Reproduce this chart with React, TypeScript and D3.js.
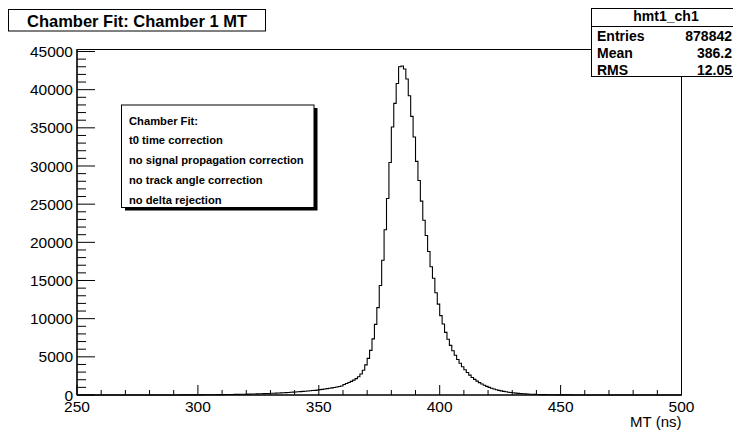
import React from "react";
import * as d3 from "d3";

const binLow = 250;
const binHigh = 500;
const counts: number[] = [
  // 250-259
  0, 0, 0, 0, 0, 0, 0, 0, 0, 0,
  // 260-269
  0, 0, 1, 0, 0, 1, 0, 1, 1, 0,
  // 270-279
  1, 1, 2, 1, 2, 2, 3, 2, 3, 3,
  // 280-289
  4, 3, 5, 4, 5, 6, 6, 7, 7, 8,
  // 290-299
  9, 9, 10, 11, 12, 12, 14, 15, 16, 17,
  // 300-309
  20, 22, 24, 27, 30, 33, 36, 40, 44, 48,
  // 310-319
  52, 56, 61, 66, 71, 77, 83, 90, 97, 105,
  // 320-329
  113, 121, 130, 139, 149, 159, 170, 181, 193, 206,
  // 330-339
  220, 234, 249, 264, 280, 297, 315, 334, 354, 375,
  // 340-349
  397, 420, 444, 469, 495, 522, 550, 580, 611, 643,
  // 350-359
  700, 740, 785, 830, 880, 930, 985, 1045, 1110, 1180,
  // 360-369
  1380, 1500, 1630, 1780, 1950, 2150, 2400, 2750, 3250, 3950,
  // 370-379
  4800, 5850, 7350, 9250, 11450, 14350, 17650, 21650, 25750, 30450,
  // 380-389
  35100, 38200, 40800, 43000, 43100, 42700, 41400, 39200, 36500, 33800,
  // 390-399
  30600, 28100, 25400, 22900, 20900, 18800, 16800, 15300, 13400, 11900,
  // 400-409
  10400, 9300, 8200, 7300, 6500, 5800, 5200, 4650, 4150, 3700,
  // 410-419
  3300, 2950, 2600, 2300, 2050, 1820, 1620, 1440, 1280, 1130,
  // 420-429
  1000, 880, 780, 690, 610, 540, 475, 420, 370, 325,
  // 430-439
  285, 250, 218, 190, 165, 143, 124, 107, 92, 80,
  // 440-449
  69, 60, 52, 45, 39, 34, 29, 25, 22, 19,
  // 450-459
  16, 14, 12, 11, 10, 9, 8, 7, 6, 6,
  // 460-469
  5, 5, 4, 4, 3, 3, 3, 2, 2, 2,
  // 470-479
  2, 1, 2, 1, 1, 1, 1, 0, 1, 0,
  // 480-489
  0, 0, 1, 0, 0, 0, 0, 0, 0, 0,
  // 490-499
  0, 0, 0, 0, 0, 0, 0, 0, 0, 0,
];

const xTickLabels = ["250", "300", "350", "400", "450", "500"];
const yTickLabels = ["0", "5000", "10000", "15000", "20000", "25000", "30000", "35000", "40000", "45000"];
const titleText = "Chamber Fit: Chamber 1 MT";
const xAxisTitle = "MT (ns)";
const statsName = "hmt1_ch1";
const statsLabels = ["Entries", "Mean", "RMS"];
const statsValues = ["878842", "386.2", "12.05"];
const legendLines = [
  "Chamber Fit:",
  "t0 time correction",
  "no signal propagation correction",
  "no track angle correction",
  "no delta rejection",
];

const FONT = "'Liberation Sans', Arial, Helvetica, sans-serif";

export default function App() {
  const W = 733;
  const H = 431;
  const fl = 77, fr = 681.5, fb = 395, ft = 49.5;
  const yMax = 45262;
  const x = d3.scaleLinear().domain([binLow, binHigh]).range([fl, fr]);
  const y = d3.scaleLinear().domain([0, yMax]).range([fb, ft]);
  const bw = (binHigh - binLow) / counts.length;

  const p = d3.path();
  counts.forEach((c, i) => {
    const x0 = x(binLow + i * bw);
    const x1 = x(binLow + (i + 1) * bw);
    if (i === 0) p.moveTo(x0, y(c));
    else p.lineTo(x0, y(c));
    p.lineTo(x1, y(c));
  });

  const yMajor = yTickLabels.map((t) => +t);
  const yMinor = d3.range(0, 45001, 1000).filter((v) => v % 5000 !== 0);
  const xMajor = xTickLabels.map((t) => +t);
  const xMinor = d3.range(binLow, binHigh + 0.1, 10).filter((v) => v % 50 !== 0);

  return (
    <svg
      width={W}
      height={H}
      style={{ position: "absolute", left: 0, top: 0, background: "#fff" }}
      fontFamily={FONT}
    >
      <rect x={0} y={0} width={W} height={H} fill="#fff" />
      {/* frame */}
      <rect x={fl} y={ft} width={fr - fl} height={fb - ft} fill="none" stroke="#000" strokeWidth={1} />
      {/* histogram */}
      <path d={p.toString()} fill="none" stroke="#000" strokeWidth={1.1} />
      {/* y axis */}
      <line x1={fl} x2={fl} y1={fb} y2={ft} stroke="#000" strokeWidth={1.2} />
      {yMajor.map((v) => (
        <line key={"ym" + v} x1={fl} x2={fl + 18} y1={y(v)} y2={y(v)} stroke="#000" strokeWidth={1} />
      ))}
      {yMinor.map((v) => (
        <line key={"yn" + v} x1={fl} x2={fl + 9} y1={y(v)} y2={y(v)} stroke="#000" strokeWidth={1} />
      ))}
      {yTickLabels.map((t) => (
        <text key={"yl" + t} x={fl - 4} y={y(+t)} dy="0.36em" textAnchor="end" fontSize={15.5}>
          {t}
        </text>
      ))}
      {/* x axis */}
      <line x1={fl} x2={fr} y1={fb} y2={fb} stroke="#000" strokeWidth={1.2} />
      {xMajor.map((v) => (
        <line key={"xm" + v} x1={x(v)} x2={x(v)} y1={fb} y2={fb - 10} stroke="#000" strokeWidth={1} />
      ))}
      {xMinor.map((v) => (
        <line key={"xn" + v} x1={x(v)} x2={x(v)} y1={fb} y2={fb - 5} stroke="#000" strokeWidth={1} />
      ))}
      {xTickLabels.map((t) => (
        <text key={"xl" + t} x={x(+t)} y={411.5} textAnchor="middle" fontSize={15.5}>
          {t}
        </text>
      ))}
      <text x={fr} y={427} textAnchor="end" fontSize={15}>
        {xAxisTitle}
      </text>
      {/* title box */}
      <rect x={8.5} y={9.5} width={257} height={21.5} fill="#fff" stroke="#000" strokeWidth={1} />
      <text x={137} y={26.5} textAnchor="middle" fontSize={16.5} fontWeight="bold">
        {titleText}
      </text>
      {/* stats box */}
      <rect x={591.5} y={8.5} width={150} height={68} fill="#fff" stroke="#000" strokeWidth={1} />
      <line x1={591.5} x2={742} y1={26.5} y2={26.5} stroke="#000" strokeWidth={1} />
      <text x={666} y={21} textAnchor="middle" fontSize={14} fontWeight="bold">
        {statsName}
      </text>
      {statsLabels.map((l, i) => (
        <text key={"sl" + l} x={597} y={40.5 + i * 17.3} fontSize={14} fontWeight="bold">
          {l}
        </text>
      ))}
      {statsValues.map((v, i) => (
        <text key={"sv" + v} x={732} y={40.5 + i * 17.3} textAnchor="end" fontSize={14} fontWeight="bold">
          {v}
        </text>
      ))}
      {/* legend box */}
      <rect x={125} y={108} width={192.5} height={102.5} fill="#000" />
      <rect x={121.5} y={105} width={192.5} height={102.5} fill="#fff" stroke="#000" strokeWidth={1} />
      {legendLines.map((l, i) => (
        <text key={"lg" + i} x={129} y={124.5 + i * 19.8} fontSize={11.2} fontWeight="bold">
          {l}
        </text>
      ))}
    </svg>
  );
}
